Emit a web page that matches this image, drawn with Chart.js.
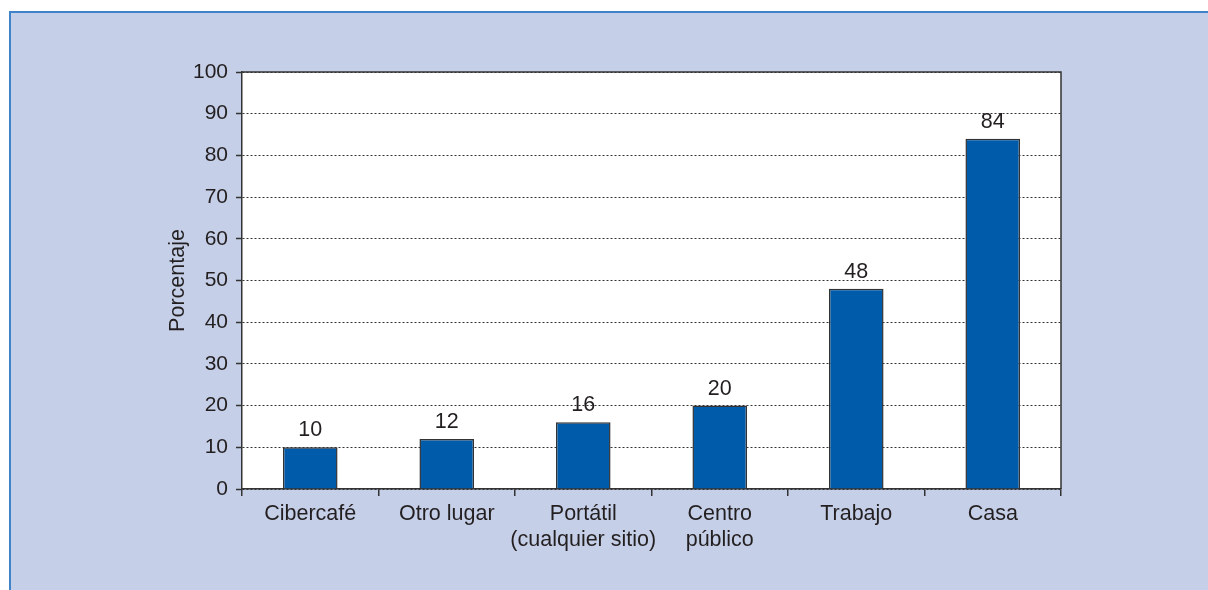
<!DOCTYPE html>
<html>
<head>
<meta charset="utf-8">
<script src="https://cdn.jsdelivr.net/npm/chart.js@4.4.1/dist/chart.umd.min.js"></script>
<style>
  body { margin: 0; background: #fff; }
  #wrap { position: relative; width: 1208px; height: 590px; overflow: hidden; }
  #panel { position: absolute; left: 9px; top: 11px; right: 0; bottom: 0;
           background: #c5cfe7; border-top: 2px solid #4083c9; border-left: 2px solid #4083c9; }
  #barChart { position: absolute; left: 0; top: 0; }
</style>
</head>
<body>
<div id="wrap">
  <div id="panel"></div>
  <canvas id="barChart" width="1208" height="590"></canvas>
</div>
<script>
// Data
const categories = ['Cibercafé', 'Otro lugar', ['Portátil', '(cualquier sitio)'], ['Centro', 'público'], 'Trabajo', 'Casa'];
const values = [10, 12, 16, 20, 48, 84];
const yTicks = [0, 10, 20, 30, 40, 50, 60, 70, 80, 90, 100];

const ink = '#231f20';
const family = 'Liberation Sans, Arial, sans-serif';
const font = { family: family, size: 21.5 };
const tickFont = { family: family, size: 21 };

// White plot area + top/right frame
const plotFrame = {
    id: 'plotFrame',
    beforeDraw(chart) {
        const a = chart.chartArea, ctx = chart.ctx;
        ctx.save();
        ctx.fillStyle = '#fff';
        ctx.fillRect(a.left, a.top, a.right - a.left, a.bottom - a.top);
        ctx.restore();
    },
    afterDraw(chart) {
        const a = chart.chartArea, ctx = chart.ctx;
        ctx.save();
        ctx.strokeStyle = '#333';
        ctx.lineWidth = 1.5;
        ctx.beginPath();
        ctx.moveTo(a.left, a.top);
        ctx.lineTo(a.right, a.top);
        ctx.lineTo(a.right, a.bottom);
        ctx.stroke();
        ctx.restore();
    }
};

// Value labels above bars
const valueLabels = {
    id: 'valueLabels',
    afterDatasetsDraw(chart) {
        const ctx = chart.ctx;
        const meta = chart.getDatasetMeta(0);
        ctx.save();
        ctx.font = font.size + 'px ' + font.family;
        ctx.fillStyle = ink;
        ctx.textAlign = 'center';
        ctx.textBaseline = 'bottom';
        meta.data.forEach((bar, i) => {
            ctx.fillText(values[i], bar.x, bar.y - 6);
        });
        ctx.restore();
    }
};

const ctxBar = document.getElementById('barChart').getContext('2d');
const barChart = new Chart(ctxBar, {
    type: 'bar',
    data: {
        labels: categories,
        datasets: [{
            data: values,
            backgroundColor: '#005bab',
            borderColor: '#333',
            borderWidth: 1.5,
            categoryPercentage: 1,
            barPercentage: 0.4
        }]
    },
    plugins: [plotFrame, valueLabels],
    options: {
        responsive: false,
        animation: false,
        layout: { padding: { left: 161, top: 72, right: 147, bottom: 0 } },
        plugins: { legend: { display: false }, tooltip: { enabled: false } },
        scales: {
            x: {
                afterFit(scale) { scale.height = 101; },
                grid: { offset: true, drawOnChartArea: false, color: '#333', tickLength: 7, lineWidth: 1.5 },
                border: { color: '#333', width: 1.5 },
                ticks: { color: ink, font: font, padding: 5, autoSkip: false, maxRotation: 0, minRotation: 0 }
            },
            y: {
                min: 0,
                max: 100,
                afterFit(scale) { scale.width = 81; },
                afterBuildTicks(scale) { scale.ticks = yTicks.map(v => ({ value: v })); },
                title: { display: true, text: 'Porcentaje', color: ink, font: font, padding: { top: 4, bottom: 4 } },
                grid: {
                    color: '#333',
                    lineWidth: 1,
                    tickBorderDash: [],
                    tickLength: 6,
                    tickWidth: 1.5
                },
                border: { color: '#333', width: 1.5, dash: [2, 2] },
                ticks: { color: ink, font: tickFont, padding: 8 }
            }
        }
    }
});
</script>
</body>
</html>
